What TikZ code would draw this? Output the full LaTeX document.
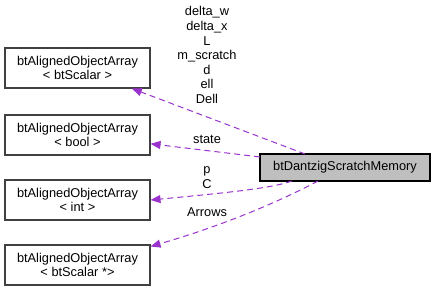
\documentclass[tikz,border=0pt]{standalone}
\usepackage{fontspec}
\setmainfont{Liberation Sans}
\usepackage{xcolor}
\usetikzlibrary{arrows.meta}

\definecolor{edgepurple}{HTML}{9A32CD}
\definecolor{boxgray}{HTML}{404040}

\begin{document}
\begin{tikzpicture}[x=0.75pt,y=-0.75pt,
		font=\fontsize{9.6}{10.9}\selectfont,
		classbox/.style={draw=boxgray,line width=0.8pt,minimum width=108.75pt,minimum height=30pt,align=center,inner sep=0pt},
		mainbox/.style={draw=black,fill=black!25,line width=0.8pt,minimum width=127.5pt,minimum height=20.25pt,inner sep=0pt},
		edge/.style={draw=edgepurple,dashed,dash pattern=on 4.5pt off 3pt,line width=0.75pt,-{Triangle[length=7.5pt,width=6pt]}},
		lbl/.style={align=center,inner sep=0pt}]
		\useasboundingbox (0,0) rectangle (436,291);
		
		%boxes
		\node[classbox] (scalar) at (77.5,68) {btAlignedObjectArray\\\textless{} btScalar \textgreater};
		\node[classbox] (bool) at (77.5,135) {btAlignedObjectArray\\\textless{} bool \textgreater};
		\node[classbox] (int) at (77.5,200) {btAlignedObjectArray\\\textless{} int \textgreater};
		\node[classbox] (ptr) at (77.5,265) {btAlignedObjectArray\\\textless{} btScalar *\textgreater};
		\node[mainbox] (mem) at (345,167.5) {btDantzigScratchMemory};
		
		%tails on the main box
		\coordinate (t1) at (305,154);
		\coordinate (t2) at (260,157);
		\coordinate (t3) at (292,181);
		\coordinate (t4) at (318,181);
		
		%edges
		\draw[edge] (t1) -- (scalar);
		\draw[edge] (t2) -- (bool);
		\draw[edge] (t3) .. controls (272,188) and (235,192) .. (int.east);
		\draw[edge] (t4) .. controls (292,195) and (235,222) .. ([yshift=-1.5]ptr.north east);
		
		%labels
		\node[lbl] (l1) at (207,55) {delta\_w\\delta\_x\\L\\m\_scratch\\d\\ell\\Dell};
		\node[lbl] (l2) at (207,139) {state};
		\node[lbl] (l3) at (207,177.5) {p\\C};
		\node[lbl] (l4) at (207,212) {Arrows};
		
		\end{tikzpicture}
\end{document}
